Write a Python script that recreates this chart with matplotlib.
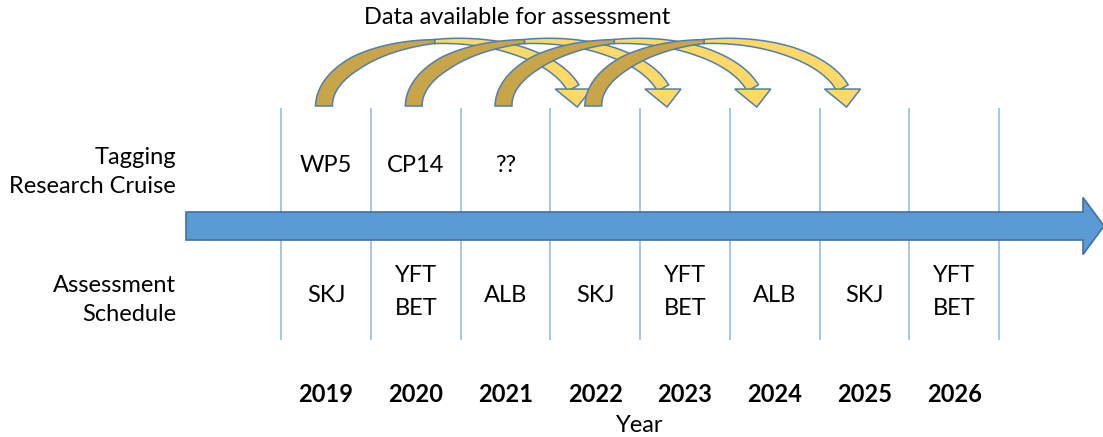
import numpy as np
import matplotlib.pyplot as plt
from matplotlib.patches import Polygon, FancyArrow

plt.rcParams['font.family'] = ['Lato', 'DejaVu Sans']

# data
years = [2019, 2020, 2021, 2022, 2023, 2024, 2025, 2026]
cruises = ['WP5', 'CP14', '??']
assessments = ['SKJ', 'YFT\nBET', 'ALB', 'SKJ', 'YFT\nBET', 'ALB', 'SKJ', 'YFT\nBET']
# tagging data from year -> available for assessment in year
data_flow = [(2019, 2022), (2020, 2023), (2021, 2024), (2022, 2025)]

# layout (y in pixels, x in years)
W, H = 1103, 437
PX = 89.75                      # pixels per year column
X0 = years[0] - 326 / PX        # year value at left edge
FS = 17


def px2x(px):
    return X0 + px / PX


fig = plt.figure(figsize=(W / 100, H / 100), dpi=100)
ax = fig.add_axes([0, 0, 1, 1])
ax.set_xlim(X0, px2x(W))
ax.set_ylim(H, 0)
ax.axis('off')

# column separators
edges = np.arange(years[0] - 0.5, years[-1] + 1, 1)
ax.vlines(edges, 108, 340, color='#9DC3E6', lw=1.3, zorder=1)

# timeline arrow
ax.add_patch(FancyArrow(px2x(186), 226, px2x(1104) - px2x(186), 0, width=28,
                        head_width=57, head_length=21 / PX, length_includes_head=True,
                        fc='#5B9BD5', ec='#41719C', lw=1.2, zorder=2))

# row labels
ax.text(px2x(176), 172, 'Tagging\nResearch Cruise', ha='right', va='center',
        fontsize=FS, linespacing=1.42)
ax.text(px2x(176), 300, 'Assessment\nSchedule', ha='right', va='center',
        fontsize=FS, linespacing=1.42)

for yr, lab in zip(years, cruises):
    ax.text(yr, 165, lab, ha='center', va='center', fontsize=FS)
for yr, lab in zip(years, assessments):
    ax.text(yr, 292 if '\n' in lab else 296, lab, ha='center', va='center',
            fontsize=FS, linespacing=1.69)
for yr in years:
    ax.text(yr, 395, str(yr), ha='center', va='center', fontsize=FS, fontweight='bold')
ax.text(px2x(640), 425, 'Year', ha='center', va='center', fontsize=FS)
ax.text(px2x(517), 18, 'Data available for assessment', ha='center', va='center',
        fontsize=FS)


# curved arrows
def curved_arrow(src, dst, z):
    tail = (src - X0) * PX - 2
    tip = (dst - X0) * PX - 18
    cy, b, te = 106, 65, 0.28
    a = (tip - 4 - tail) / (1 + np.cos(te))
    cx = tail + a
    t = np.linspace(np.pi, te, 120)
    px = cx + a * np.cos(t)
    py = cy - b * np.sin(t)
    tx, ty = a * np.sin(t), b * np.cos(t)
    n = np.hypot(tx, ty)
    nx, ny = -ty / n, tx / n
    s = np.linspace(0, 1, len(t))
    w = np.interp(s, [0, 0.25, 0.5, 0.75, 1], [17, 14, 4, 10, 13]) / 2
    lx, ly = px + nx * w, py + ny * w
    rx, ry = px - nx * w, py - ny * w
    mid = len(t) // 2
    for sl, col in [(slice(0, mid + 1), '#C9A54A'), (slice(mid, None), '#FFD966')]:
        xs = np.concatenate([lx[sl], rx[sl][::-1]])
        ys = np.concatenate([ly[sl], ry[sl][::-1]])
        ax.add_patch(Polygon(np.column_stack([px2x(xs), ys]), closed=True,
                             fc=col, ec='#4F7FAF', lw=1.1, zorder=z))
    bx, by = px[-1], py[-1] + 1
    head = [(bx - 18, by), (bx + 4, by + 18), (bx + 18, by)]
    ax.add_patch(Polygon([(px2x(p[0]), p[1]) for p in head], closed=True,
                         fc='#FFD966', ec='#4F7FAF', lw=1.1, zorder=z + 0.5))


for i, (src, dst) in enumerate(data_flow):
    curved_arrow(src, dst, 3 + i)

fig.savefig('out.png', dpi=100)
